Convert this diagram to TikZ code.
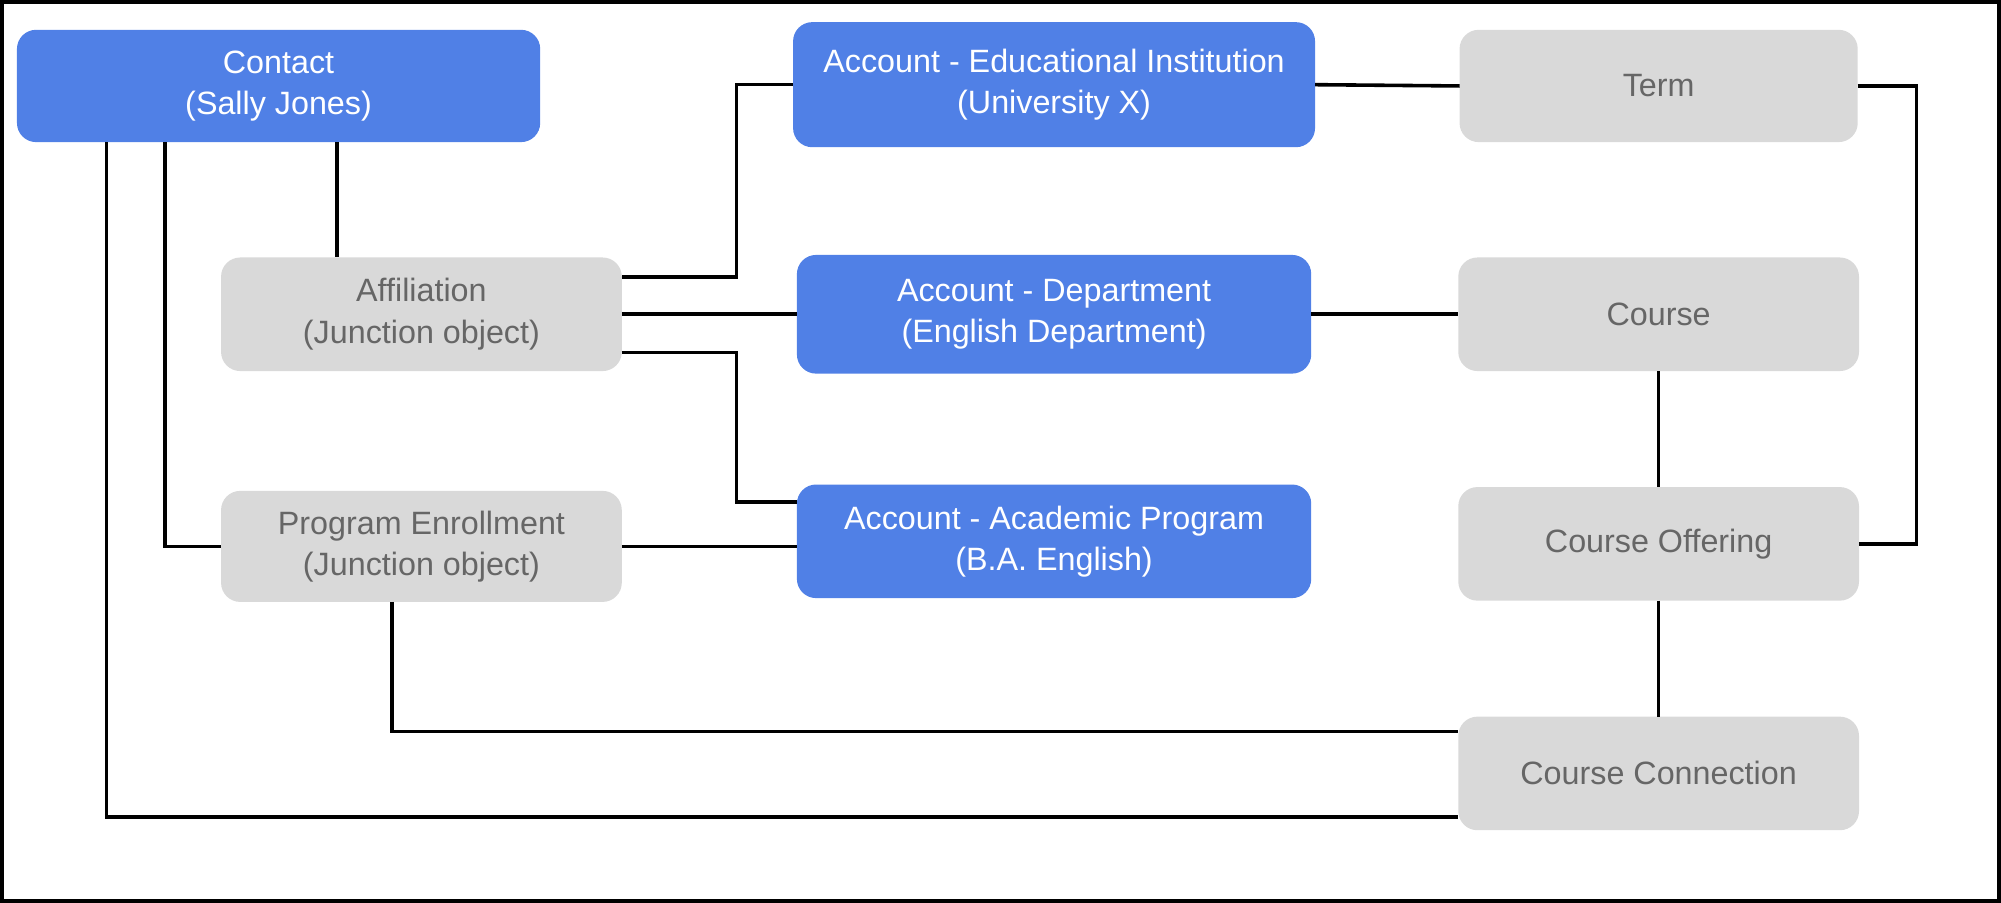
\documentclass[tikz,border=0pt]{standalone}
\usepackage{fontspec}
\setmainfont{Liberation Sans}
\definecolor{acctblue}{HTML}{5080E6}
\definecolor{objgray}{HTML}{D9D9D9}
\definecolor{objtext}{HTML}{666666}
\tikzset{
  box/.style={rounded corners=0.15cm, inner sep=0pt, outer sep=0pt, align=center,
    font=\fontsize{7.2}{9.2}\selectfont},
  blue box/.style={box, fill=acctblue, text=white},
  gray box/.style={box, fill=objgray, text=objtext},
  link/.style={thick, black}
}
\begin{document}
\begin{tikzpicture}[x=0.01cm,y=-0.01cm]
    \draw[thick] (1,1) rectangle (1567,706);
    \useasboundingbox (0,0) rectangle (1568,707);
    \node[blue box, minimum width=4.10cm, minimum height=0.88cm] (contact) at (218,67) {Contact\\(Sally Jones)};
    \node[gray box, minimum width=3.14cm, minimum height=0.89cm] (aff) at (330,246) {Affiliation\\(Junction object)};
    \node[gray box, minimum width=3.14cm, minimum height=0.87cm] (enrol) at (330,428) {Program Enrollment\\(Junction object)};
    \node[blue box, minimum width=4.09cm, minimum height=0.98cm] (edu) at (826,66) {Account - Educational Institution\\(University X)};
    \node[blue box, minimum width=4.03cm, minimum height=0.93cm] (dept) at (826,246) {Account - Department\\(English Department)};
    \node[blue box, minimum width=4.03cm, minimum height=0.89cm] (prog) at (826,424) {Account - Academic Program\\(B.A. English)};
    \node[gray box, minimum width=3.12cm, minimum height=0.88cm] (term) at (1300,67) {Term};
    \node[gray box, minimum width=3.14cm, minimum height=0.89cm] (course) at (1300,246) {Course};
    \node[gray box, minimum width=3.14cm, minimum height=0.89cm] (offer) at (1300,426) {Course Offering};
    \node[gray box, minimum width=3.14cm, minimum height=0.89cm] (conn) at (1300,606) {Course Connection};
    % contact links
    \draw[link] (contact.south -| 264,0) -- (aff.north -| 264,0);
    \draw[link] (contact.south -| 129,0) |- (enrol.west);
    \draw[link] (contact.south -| 83,0) |- (conn.west |- 0,640);
    % affiliation links
    \draw[link] (aff.east |- 0,217) -- (577,217) |- (edu.west);
    \draw[link] (aff.east) -- (dept.west);
    \draw[link] (aff.east |- 0,276) -- (577,276) |- (prog.west |- 0,393);
    % enrollment links
    \draw[link] (enrol.east) -- (prog.west |- enrol.east);
    \draw[link] (enrol.south -| 307,0) |- (conn.west |- 0,573);
    % right side
    \draw[link] (edu.east) -- (term.west);
    \draw[link] (dept.east) -- (course.west);
    \draw[link] (course.south) -- (offer.north);
    \draw[link] (offer.south) -- (conn.north);
    \draw[link] (term.east) -- (1502,67) |- (offer.east);
\end{tikzpicture}
\end{document}
